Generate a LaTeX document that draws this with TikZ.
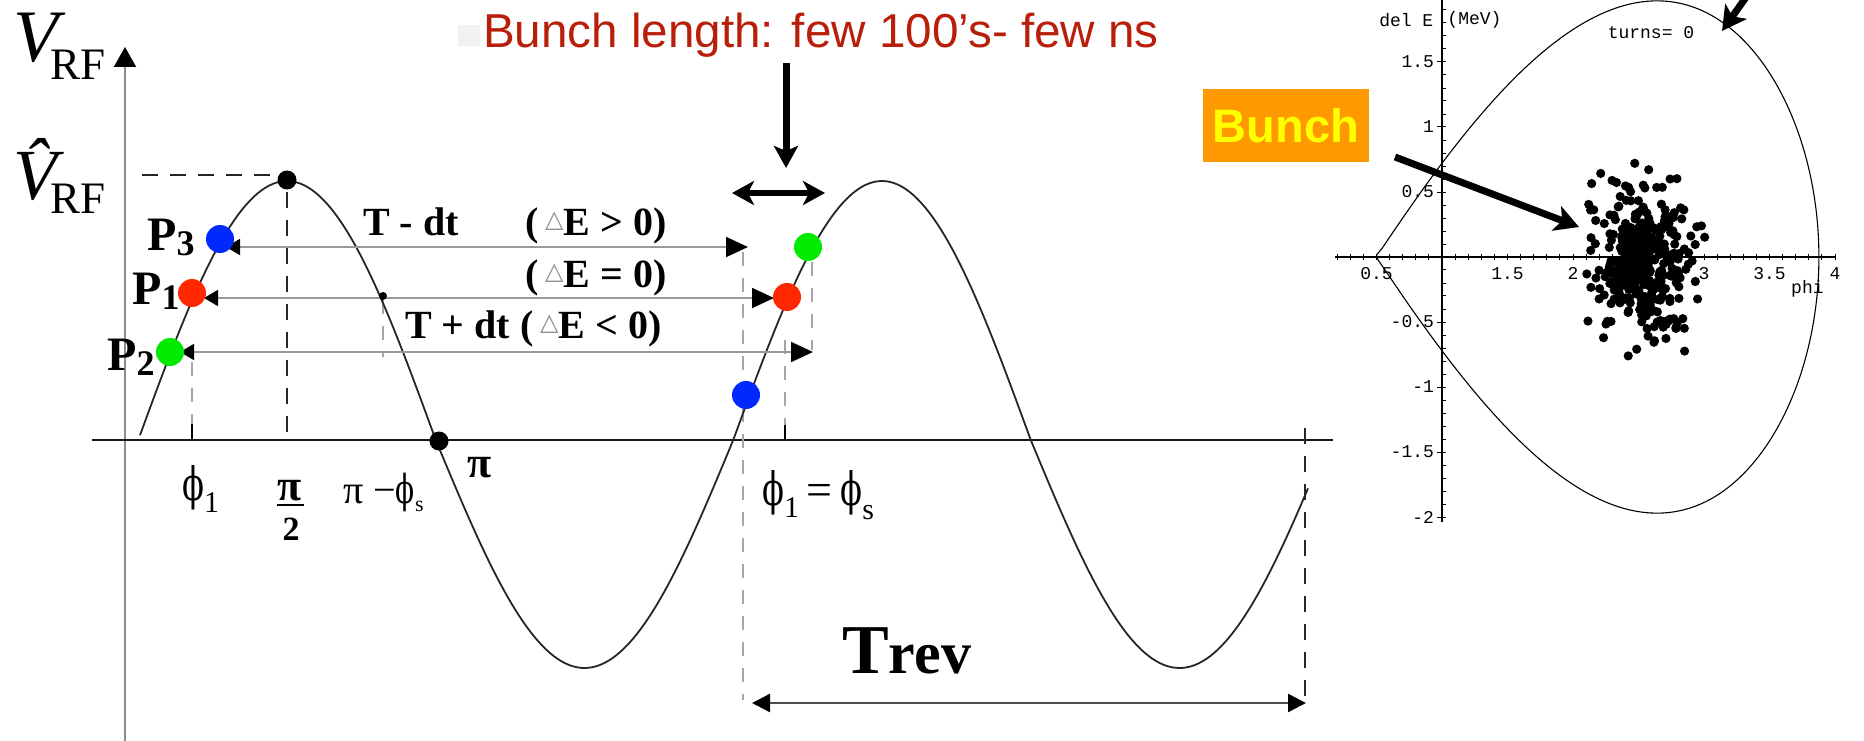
\documentclass[tikz,border=0pt]{standalone}
\usepackage{fontspec}
\usepackage{graphicx}
\setmainfont{Liberation Serif}
\newfontfamily\sansf{Liberation Sans}
\newfontfamily\monof{Liberation Mono}
\newfontfamily\dejavuf{DejaVu Sans}
\newfontfamily\dvserif{DejaVu Serif}
\usetikzlibrary{arrows.meta}
\definecolor{bunchred}{RGB}{185,30,10}
\definecolor{pblue}{RGB}{0,40,255}
\definecolor{pred}{RGB}{255,40,0}
\definecolor{pgreen}{RGB}{0,235,0}
\definecolor{boxorange}{RGB}{255,153,0}
\definecolor{boxyellow}{RGB}{255,255,0}
\newcommand{\setfs}[1]{\fontsize{#1}{#1}\selectfont}
\newcommand{\deltri}{{\dejavuf\mdseries\setfs{24}\color{black!45}\raisebox{8pt}{△}}}
\newcommand{\vphi}{\scalebox{0.7}[1]{\dvserif ϕ}}
\begin{document}
\begin{tikzpicture}[x=1pt,y=-1pt,
  wave/.style={line width=1.8pt, black!85},
  rowline/.style={line width=1.8pt, black!40},
  faint/.style={line width=1.2pt, black!35, dash pattern=on 14pt off 12pt},
  blackdash/.style={line width=1.6pt, black!85, dash pattern=on 16pt off 12pt},
  pdot/.style={circle, inner sep=0pt, minimum size=28pt},
  bdot/.style={circle, fill=black, inner sep=0pt, minimum size=19pt},
  thickarrow/.style={line width=7pt, -{Stealth[length=24pt,width=26pt,inset=6pt]}},
  lbl/.style={inner sep=0pt, anchor=base west},
  mono/.style={inner sep=0pt, font=\monof\setfs{18}},
  declare function={sepE(\p)=sqrt(max(5.33*(1.117296-cos(deg(\p))-0.479426*\p),0)); sepP(\t)=3.8771-3.3771*(1-\t)^2;}
]
\useasboundingbox (0,0) rectangle (1864,741);
\clip (0,0) rectangle (1864,741);

% ---------------- left: RF wave ----------------
\coordinate (ybot) at (125,741);
\coordinate (ytop) at (125,47);
\draw[line width=2pt, black!45, -{Triangle[length=20pt,width=22pt,color=black]}] (ybot) -- (ytop);
\coordinate (xl) at (92,440);
\coordinate (xr) at (1333,440);
\draw[line width=2.2pt, black!90] (xl) -- (xr);

% guides
\draw[blackdash] (142,175) -- (278,175);
\draw[blackdash] (287,192) -- (287,440);
\draw[faint] (192,362) -- (192,424);
\draw[line width=1.6pt] (192,424) -- (192,440);
\draw[faint] (383,300) -- (383,357);
\draw[faint] (743,252) -- (743,700);
\draw[faint] (812,262) -- (812,350);
\draw[faint] (785,340) -- (785,425);
\draw[line width=1.6pt] (785,425) -- (785,440);
\draw[blackdash] (1305,428) -- (1305,700);

% wave
\draw[wave] plot[domain=140:1308, samples=300] (\x, {440-243.5*cos((\x-287)*0.605042)-15.5*abs(cos((\x-287)*0.605042))});

% rows
\coordinate (r1a) at (226,247); \coordinate (r1b) at (748,247);
\coordinate (r2a) at (204,298); \coordinate (r2b) at (774,298);
\coordinate (r3a) at (180,352); \coordinate (r3b) at (813,352);
\draw[rowline, {Triangle[length=14pt,width=16pt,color=black]}-{Triangle[length=22pt,width=20pt,color=black]}] (r1a) -- (r1b);
\draw[rowline, {Triangle[length=14pt,width=16pt,color=black]}-{Triangle[length=22pt,width=20pt,color=black]}] (r2a) -- (r2b);
\draw[rowline, {Triangle[length=14pt,width=16pt,color=black]}-{Triangle[length=22pt,width=20pt,color=black]}] (r3a) -- (r3b);

% dots
\node[bdot] (peak) at (287,180) {};
\node[bdot] (pidot) at (439,441) {};
\node[circle, fill=black, inner sep=0pt, minimum size=8pt] (mid) at (383,296) {};
\node[pdot, fill=pblue] (p3) at (220,239) {};
\node[pdot, fill=pred] (p1) at (192,293) {};
\node[pdot, fill=pgreen] (p2) at (170,352) {};
\node[pdot, fill=pgreen] (q2) at (808,247) {};
\node[pdot, fill=pred] (q1) at (787,297) {};
\node[pdot, fill=pblue] (q3) at (746,395) {};

% axis labels
\node[lbl] (vrf) at (13,62) {\itshape\setfs{74}V};
\node[lbl] (rf1) at (50,80) {\setfs{45}RF};
\node[lbl] (vhat) at (13,200) {\itshape\setfs{72}\^{V}};
\node[lbl] (rf2) at (50,213) {\setfs{45}RF};

% P labels
\node[lbl] (lp3) at (147,250) {\bfseries\setfs{48}P\lower5pt\hbox{\setfs{36}3}};
\node[lbl] (lp1) at (132,304) {\bfseries\setfs{48}P\lower5pt\hbox{\setfs{36}1}};
\node[lbl] (lp2) at (107,370) {\bfseries\setfs{48}P\lower5pt\hbox{\setfs{36}2}};

% row labels
\node[lbl] (tm) at (363,235) {\bfseries\setfs{40}T - dt};
\node[lbl] (eg) at (525,235) {\bfseries\setfs{40}(\,\deltri E > 0)};
\node[lbl] (ee) at (525,287) {\bfseries\setfs{40}(\,\deltri E = 0)};
\node[lbl] (tp) at (405,338) {\bfseries\setfs{40}T + dt (\,\deltri E < 0)};

% phase labels
\node[lbl] (phi1) at (182,500) {\setfs{46}\vphi\lower12pt\hbox{\setfs{30}1}};
\node[inner sep=0pt, anchor=base] (pih) at (290,500) {\bfseries\setfs{44}π};
\draw[line width=1.5pt] (277,505) -- (304,505);
\node[inner sep=0pt, anchor=base] (two) at (291,540) {\bfseries\setfs{34}2};
\node[lbl] (pims) at (343,503) {\setfs{40}π −{\setfs{40}\vphi}\lower8pt\hbox{\setfs{22}s}};
\node[lbl] (pil) at (467,477) {\bfseries\setfs{44}π};
\node[lbl] (phis) at (762,505) {\setfs{46}\vphi\lower12pt\hbox{\setfs{30}1}\,=\,\vphi\lower14pt\hbox{\setfs{30}s}};

% Trev
\coordinate (ta) at (752,703); \coordinate (tb) at (1306,703);
\draw[line width=2.4pt, black!70, {Triangle[length=18pt,width=18pt,color=black]}-{Triangle[length=18pt,width=18pt,color=black]}] (ta) -- (tb);
\node[lbl] (trev) at (842,673) {\bfseries\setfs{70}T\setfs{60}rev};

% Bunch length
\fill[black!5] (458,25) rectangle (480,46);
\node[lbl, text=bunchred] (blen) at (483,48) {\sansf\setfs{47.6}Bunch length: few 100’s- few ns};
\coordinate (bl1) at (786,63); \coordinate (bl2) at (786,168);
\draw[line width=7pt, -{Stealth[length=22pt,width=24pt,inset=5pt]}] (bl1) -- (bl2);
\coordinate (dl) at (732,193); \coordinate (dr) at (825,193);
\draw[line width=6pt, {Stealth[length=22pt,width=24pt,inset=6pt]}-{Stealth[length=22pt,width=24pt,inset=6pt]}] (dl) -- (dr);

% ---------------- right: phase space plot ----------------
\begin{scope}[shift={(1311,257)}, x=131pt, y=130pt]
  \draw[line width=1.3pt] (0.183,0) -- (4.01,0);
  \draw[line width=1.3pt] (1,-2.04) -- (1,2.1);
  \foreach \k in {2,...,40} \draw[line width=1pt] (\k/10,-0.025) -- (\k/10,0.025);
  \foreach \k in {-20,...,20} \draw[line width=1pt] (1,\k/10) -- (1.03,\k/10);
  \foreach \e in {-2,-1.5,-1,-0.5,0.5,1,1.5} \draw[line width=1pt] (0.96,\e) -- (1,\e);
  \draw[line width=1.1pt] plot[domain=0:1, samples=150, variable=\t] ({sepP(\t)},{sepE(sepP(\t))})
     -- plot[domain=1:0, samples=150, variable=\t] ({sepP(\t)},{-sepE(sepP(\t))}) -- cycle;
  \node[mono, anchor=east] at (0.94,1.5) {1.5};
  \node[mono, anchor=east] at (0.94,1) {1};
  \node[mono, anchor=east] at (0.94,0.5) {0.5};
  \node[mono, anchor=east] at (0.94,-0.5) {-0.5};
  \node[mono, anchor=east] at (0.94,-1) {-1};
  \node[mono, anchor=east] at (0.94,-1.5) {-1.5};
  \node[mono, anchor=east] at (0.94,-2) {-2};
  \node[mono, anchor=north] at (0.5,-0.08) {0.5};
  \node[mono, anchor=north] at (1.5,-0.08) {1.5};
  \node[mono, anchor=north] at (2,-0.08) {2};
  \node[mono, anchor=north] at (3,-0.08) {3};
  \node[mono, anchor=north] at (3.5,-0.08) {3.5};
  \node[mono, anchor=north] at (4,-0.08) {4};
  \node[mono, anchor=base west] at (3.664,-0.277) {phi};
  \node[mono, anchor=east] at (0.935,1.823) {del E};
  \node[mono, anchor=west] at (1.04,1.823) {(MeV)};
  \node[mono] at (2.595,1.723) {turns= 0};
\end{scope}

% bunch of particles
\pgfmathsetseed{7}
\foreach \i in {1,...,300} {
  \pgfmathsetmacro\dx{1643+26*(rand+rand+rand)}
  \pgfmathsetmacro\dy{257+40*(rand+rand+rand)}
  \fill (\dx,\dy) circle[radius=4.6pt];
}
\foreach \i in {1,...,70} {
  \pgfmathsetmacro\dx{1643+11*(rand+rand+rand)}
  \pgfmathsetmacro\dy{250+18*(rand+rand+rand)}
  \fill (\dx,\dy) circle[radius=4.6pt];
}

% Bunch label and arrows
\node[fill=boxorange, text=boxyellow, minimum width=166pt, minimum height=73pt, inner sep=0pt, font=\sansf\bfseries\setfs{47}] (bunch) at (1286,125.5) {Bunch};
\coordinate (bs) at (1395,157); \coordinate (bt) at (1579,227);
\draw[thickarrow] (bs) -- (bt);
\coordinate (ts) at (1754,-14); \coordinate (tt) at (1722,31);
\draw[thickarrow] (ts) -- (tt);
\end{tikzpicture}
\end{document}
